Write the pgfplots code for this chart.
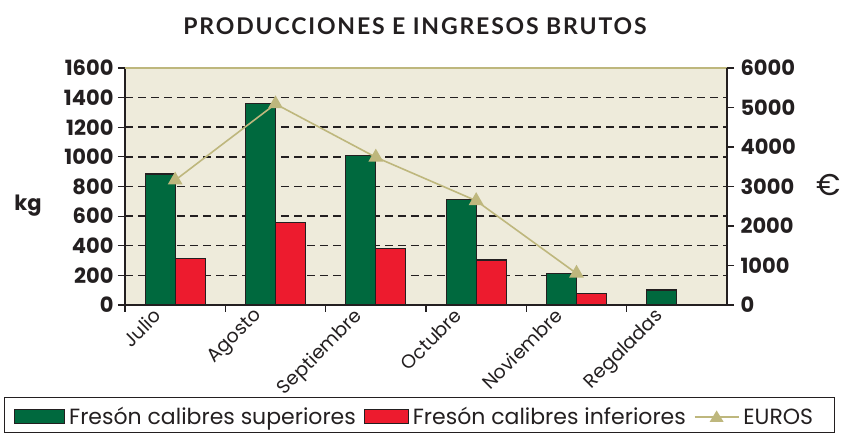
\documentclass[border=0pt]{standalone}
\usepackage{pgfplots}
\pgfplotsset{compat=1.18}
\usepackage{fontspec}
\setmainfont{Poppins}
\newfontfamily\titlefont[LetterSpace=8]{Lato}
\definecolor{bg}{RGB}{238,235,219}
\definecolor{verde}{RGB}{0,105,62}
\definecolor{rojo}{RGB}{237,27,46}
\definecolor{khaki}{RGB}{190,183,125}
\definecolor{edge}{RGB}{35,31,32}

\pgfplotstableread{
x sup inf
0 885 315
1 1362 556
2 1009 383
3 714 304
4 214 76
5 101 0
}\kgdata
\pgfplotstableread{
x eur
0 3160
1 5090
2 3740
3 2640
4 800
}\eurdata

\begin{document}
\begin{tikzpicture}
\path[use as bounding box] (0,0) rectangle (843pt,435pt);
\node[font=\fontsize{23}{23}\selectfont\titlefont\bfseries, text=edge] at (415pt,409pt) {PRODUCCIONES E INGRESOS BRUTOS};
\node[font=\fontsize{21}{21}\selectfont\bfseries, text=edge] at (28pt,229pt) {kg};
\node[font=\fontsize{30}{30}\selectfont, text=edge] at (829pt,250pt) {€};
\draw[edge, line width=1pt] (4pt,2pt) rectangle (834pt,37pt);
\begin{axis}[
 at={(125pt,130pt)}, anchor=south west,
 scale only axis, width=602pt, height=237pt,
 xmin=-0.5, xmax=5.5, ymin=0, ymax=1600,
 axis x line*=bottom, axis y line*=left,
 axis line style={edge, line width=1.2pt},
 axis background/.style={fill=bg},
 ytick={0,200,...,1600},
 xtick={0,...,5},
 xticklabels={Julio,Agosto,Septiembre,Octubre,Noviembre,Regaladas},
 major x tick style={draw=none},
 minor xtick={-0.5,0.5,...,4.5},
 minor x tick style={edge, line width=1.2pt},
 tick align=outside,
 major tick length=7pt, minor tick length=7pt,
 ytick style={edge, line width=1.2pt},
 ymajorgrids,
 grid style={edge, line width=1.5pt, dash pattern=on 8pt off 5pt},
 /pgf/number format/assume math mode=true,
 /pgf/number format/1000 sep={},
 yticklabel style={font=\fontsize{21}{21}\selectfont\bfseries, text=edge, xshift=-1pt},
 xticklabel style={font=\fontsize{19}{19}\selectfont, text=edge, xshift=-23pt, yshift=10pt, rotate=45, anchor=north east},
]
\addplot[ybar, bar width=30pt, bar shift=-15pt, fill=verde, draw=edge, line width=1.2pt] table[x=x,y=sup] {\kgdata};
\addplot[ybar, bar width=30pt, bar shift=15pt, fill=rojo, draw=edge, line width=1.2pt] table[x=x,y=inf] {\kgdata};
\draw[khaki, line width=1.5pt] (rel axis cs:0,1) -- (rel axis cs:1,1);
\end{axis}
\begin{axis}[
 at={(125pt,130pt)}, anchor=south west,
 scale only axis, width=602pt, height=237pt,
 xmin=-0.5, xmax=5.5, ymin=0, ymax=6000,
 axis x line=none, axis y line*=right,
 axis line style={edge, line width=1.2pt},
 ytick={0,1000,...,6000},
 tick align=outside, major tick length=7pt,
 ytick style={edge, line width=1.2pt},
 /pgf/number format/assume math mode=true,
 /pgf/number format/1000 sep={},
 yticklabel style={font=\fontsize{21}{21}\selectfont\bfseries, text=edge, xshift=3pt},
 legend columns=3,
 legend style={at={(-0.1894,-0.4726)}, anchor=west, draw=none, fill=none,
   font=\fontsize{22}{22}\selectfont, text=edge,
   nodes={inner xsep=4pt},
   /tikz/every even column/.append style={column sep=4pt}},
 legend cell align=left,
]
\addlegendimage{legend image code/.code={\draw[fill=verde,draw=edge,line width=1pt] (0pt,-7pt) rectangle (50pt,7pt);}}
\addlegendentry{Fresón calibres superiores}
\addlegendimage{legend image code/.code={\draw[fill=rojo,draw=edge,line width=1pt] (0pt,-7pt) rectangle (44pt,7pt);}}
\addlegendentry{Fresón calibres inferiores}
\addplot[khaki, line width=1.6pt, mark=triangle*, mark size=7pt, mark options={fill=khaki},
  legend image code/.code={\draw[khaki,line width=1.6pt] (0pt,0pt) -- (44pt,0pt); \fill[khaki] (22pt,5pt) -- (16.5pt,-4pt) -- (27.5pt,-4pt) -- cycle;}]
  table[x=x,y=eur] {\eurdata};
\addlegendentry{EUROS}
\end{axis}
\end{tikzpicture}
\end{document}
